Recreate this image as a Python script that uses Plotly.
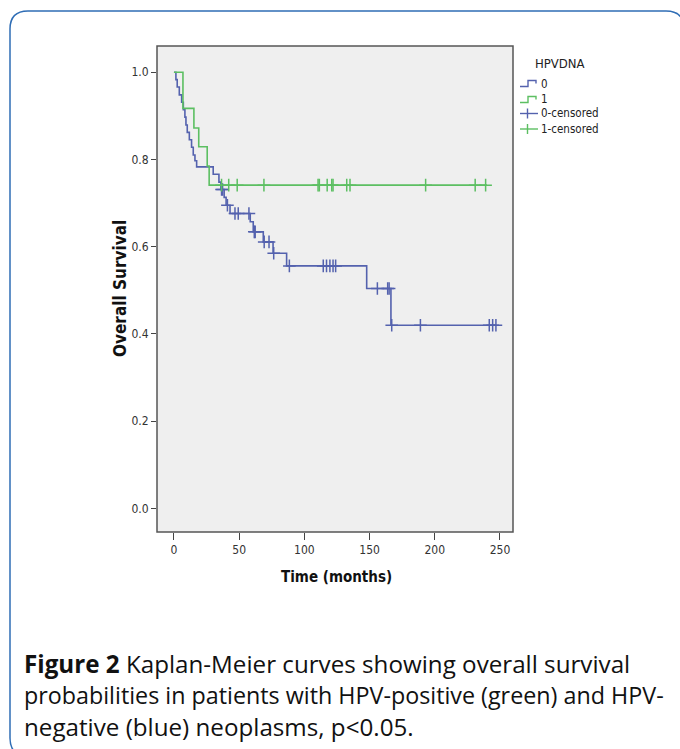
import plotly.graph_objects as go

# ---------------- data ----------------
blue_t = [0, 1.5, 2.5, 4.1, 5.9, 7.2, 8.4, 9.2, 10.2, 11.8, 13.5, 14.8, 16.1, 17.4,
          30.1, 34.5, 36.0, 38.5, 40.0, 43.0, 58.5, 60.8, 68.5, 76.0, 86.4,
          147.8, 166.4, 247.0]
blue_s = [1.0, 0.983, 0.966, 0.948, 0.931, 0.914, 0.897, 0.879, 0.862, 0.845, 0.828, 0.810, 0.797, 0.783,
          0.766, 0.748, 0.731, 0.713, 0.695, 0.676, 0.657, 0.634, 0.611, 0.585, 0.556,
          0.504, 0.420, 0.420]

green_t = [0, 6.9, 15.3, 19.0, 25.5, 27.0, 240.0]
green_s = [1.0, 0.917, 0.872, 0.829, 0.785, 0.741, 0.741]

blue_cens_t = [36.5, 37.3, 41.0, 46.8, 49.3, 57.5, 61.6, 62.3, 69.2, 72.9, 76.5,
               88.5, 114.5, 117.0, 119.6, 122.0, 124.0, 156.0, 163.9, 165.0,
               167.0, 189.0, 241.8, 244.4, 246.9]
blue_cens_s = [0.731, 0.731, 0.695, 0.676, 0.676, 0.676, 0.634, 0.634, 0.611, 0.611, 0.585,
               0.556, 0.556, 0.556, 0.556, 0.556, 0.556, 0.504, 0.504, 0.504,
               0.420, 0.420, 0.420, 0.420, 0.420]

green_cens_t = [36.5, 42.0, 48.5, 69.0, 110.5, 111.5, 117.5, 121.0, 122.0, 132.5, 135.0,
                193.0, 231.0, 239.0]
green_cens_s = [0.741] * len(green_cens_t)

x_ticks = [0, 50, 100, 150, 200, 250]
y_ticks = [0.0, 0.2, 0.4, 0.6, 0.8, 1.0]
y_tick_labels = ["0.0", "0.2", "0.4", "0.6", "0.8", "1.0"]

legend_title = "HPVDNA"
legend_labels = ["0", "1", "0-censored", "1-censored"]

BLUE = "#5462ae"
GREEN = "#5cbf62"

# ---------------- layout geometry (pixels) ----------------
W, H = 680, 749
PL, PR, PT, PB = 157, 513, 46, 532   # plot box


def px(x):
    return (x - PL) / (PR - PL)


def py(y):
    return (PB - y) / (PB - PT)


fig = go.Figure()

fig.add_trace(go.Scatter(x=blue_t, y=blue_s, mode="lines", line_shape="hv",
                         line=dict(color=BLUE, width=1.6), name="0", showlegend=False))
fig.add_trace(go.Scatter(x=green_t, y=green_s, mode="lines", line_shape="hv",
                         line=dict(color=GREEN, width=1.6), name="1", showlegend=False))
fig.add_trace(go.Scatter(x=blue_cens_t, y=blue_cens_s, mode="markers",
                         marker=dict(symbol="cross-thin", size=9,
                                     line=dict(color=BLUE, width=1.5)),
                         name="0-censored", showlegend=False))
fig.add_trace(go.Scatter(x=green_cens_t, y=green_cens_s, mode="markers",
                         marker=dict(symbol="cross-thin", size=9,
                                     line=dict(color=GREEN, width=1.5)),
                         name="1-censored", showlegend=False))

NARROW = "Liberation Sans Narrow, DejaVu Sans Condensed, Liberation Sans, Arial"
tick_font = dict(family=NARROW, size=12, color="#333333")

fig.update_xaxes(range=[-13, 260], tickvals=x_ticks, ticks="outside", ticklen=7,
                 tickcolor="#444444", tickwidth=1, showgrid=False, zeroline=False,
                 showline=False, tickfont=tick_font)
fig.update_yaxes(range=[-0.054, 1.06], tickvals=y_ticks, ticktext=y_tick_labels,
                 ticks="outside", ticklen=5, tickcolor="#444444", tickwidth=1,
                 showgrid=False, zeroline=False, showline=False, tickfont=tick_font)

shapes = []
# plot box border
shapes.append(dict(type="rect", xref="paper", yref="paper", x0=0, y0=0, x1=1, y1=1,
                   line=dict(color="#555555", width=1.5), layer="above"))

# outer rounded card border
L, R, T, B, r = 10, 684, 11, 756, 18
path = (f"M {px(L)},{py(T + r)} Q {px(L)},{py(T)} {px(L + r)},{py(T)} "
        f"L {px(R - r)},{py(T)} Q {px(R)},{py(T)} {px(R)},{py(T + r)} "
        f"L {px(R)},{py(B - r)} Q {px(R)},{py(B)} {px(R - r)},{py(B)} "
        f"L {px(L + r)},{py(B)} Q {px(L)},{py(B)} {px(L)},{py(B - r)} Z")
shapes.append(dict(type="path", xref="paper", yref="paper", path=path,
                   line=dict(color="#2f6db5", width=1.5)))

# legend icons
legend_rows = [83.5, 99.5, 113.5, 129]
colors = [BLUE, GREEN, BLUE, GREEN]
for i, yc in enumerate(legend_rows):
    c = colors[i]
    if i < 2:
        p = (f"M {px(520)},{py(yc + 3)} L {px(528)},{py(yc + 3)} L {px(528)},{py(yc - 3)} "
             f"L {px(536)},{py(yc - 3)} L {px(536)},{py(yc)}")
        shapes.append(dict(type="path", xref="paper", yref="paper", path=p,
                           line=dict(color=c, width=1.4)))
    else:
        shapes.append(dict(type="line", xref="paper", yref="paper",
                           x0=px(520), x1=px(538), y0=py(yc), y1=py(yc),
                           line=dict(color=c, width=1.4)))
        shapes.append(dict(type="line", xref="paper", yref="paper",
                           x0=px(527.5), x1=px(527.5), y0=py(yc - 5), y1=py(yc + 5),
                           line=dict(color=c, width=1.4)))

annotations = []
leg_font = dict(family=NARROW, size=11.5, color="#222222")
annotations.append(dict(text=legend_title, xref="paper", yref="paper", x=px(533), y=py(63),
                        xanchor="left", yanchor="middle", showarrow=False,
                        font=dict(family=NARROW, size=13, color="#222222")))
for lab, yc in zip(legend_labels, legend_rows):
    annotations.append(dict(text=lab, xref="paper", yref="paper", x=px(539), y=py(yc),
                            xanchor="left", yanchor="middle", showarrow=False, font=leg_font))

annotations.append(dict(text="<b>Overall Survival</b>", xref="paper", yref="paper",
                        x=px(120), y=py(289), textangle=-90, showarrow=False,
                        xanchor="center", yanchor="middle",
                        font=dict(family=NARROW, size=17, color="#111111")))
annotations.append(dict(text="<b>Time (months)</b>", xref="paper", yref="paper",
                        x=px(336), y=py(577), showarrow=False,
                        xanchor="center", yanchor="middle",
                        font=dict(family=NARROW, size=15, color="#111111")))

caption_lines = [
    "<b>Figure 2</b> Kaplan-Meier curves showing overall survival",
    "probabilities in patients with HPV-positive (green) and HPV-",
    "negative (blue) neoplasms, p<0.05.",
]
caption_sizes = [24.2, 23.3, 24.2]
for line, yc, fs in zip(caption_lines, [664, 695, 726], caption_sizes):
    annotations.append(dict(text=line, xref="paper", yref="paper", x=px(22), y=py(yc),
                            xanchor="left", yanchor="middle", showarrow=False,
                            font=dict(family="Open Sans, Lato, sans-serif", size=fs,
                                      color="#111111")))

fig.update_layout(
    width=W, height=H,
    margin=dict(l=PL, r=W - PR, t=PT, b=H - PB, pad=0),
    paper_bgcolor="white", plot_bgcolor="#efefef",
    shapes=shapes, annotations=annotations, showlegend=False,
)

fig.write_html("out.html", config={"displayModeBar": False},
               post_script="document.body.style.margin='0';document.body.style.padding='0';")
